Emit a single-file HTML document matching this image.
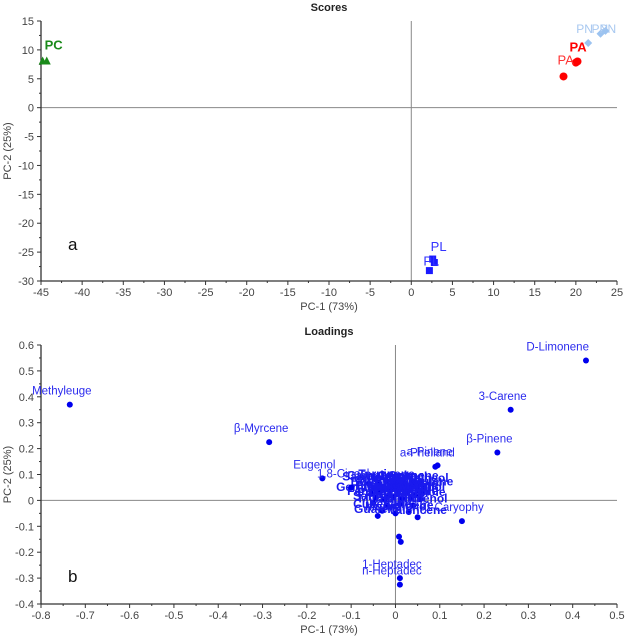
<!DOCTYPE html>
<html><head><meta charset="utf-8"><style>
body{margin:0;background:#fff;}
svg{display:block;font-family:"Liberation Sans",Arial,sans-serif;}
</style></head><body>
<svg id="c" width="625" height="639"></svg>
<script>
// ---- Scores data ----
const pcX=[-44.8,-44.3];const pcY=[8.0,8.0];
const paX=[20.2,18.5,20.0];const paY=[8.0,5.4,7.8];
const pnX=[21.5,23.0,23.6];const pnY=[11.2,12.8,13.3];
const plX=[2.2,2.8,2.6];const plY=[-28.2,-26.8,-26.2];
const scoreXTicks=[-45,-40,-35,-30,-25,-20,-15,-10,-5,0,5,10,15,20,25];
const scoreYTicks=[15,10,5,0,-5,-10,-15,-20,-25,-30];
// ---- Loadings data ----
const loadNames=["Methyleuge","β-Myrcene","Eugenol","1,8-Cineol","a-Phelland","a-Pinene","β-Pinene","3-Carene","D-Limonene","β-Caryophy","1-Heptadec","n-Heptadec","γ-Cadinene","δ-Cadinene"];
const loadX=[-0.735,-0.285,-0.165,-0.10,0.09,0.095,0.23,0.26,0.43,0.15,0.01,0.01,0.008,0.012];
const loadY=[0.37,0.225,0.085,0.05,0.13,0.135,0.185,0.35,0.54,-0.08,-0.30,-0.325,-0.14,-0.16];
const clusterNames=["Sabinene","Camphene","Terpinene","p-Cymene","Linalool","Ocimene","Terpineol","Borneol","Myrtenal","Carvone","Thujene","Citral","Geraniol","Humulene","Germacrene","Elemene","Copaene","Farnesene","Bisabolene","Nerol","Menthol","Fenchone","Pulegone","Thymol","Carvacrol","Estragole","Anethole","Safrole","Myristicin","Elemicin","Spathulenol","Cubebene","Muurolene","Selinene","Guaiene","Valencene"];
const clusterX=[-0.06,-0.04,-0.02,0.0,0.02,0.04,0.06,-0.05,-0.03,-0.01,0.01,0.03,0.05,0.065,-0.055,-0.035,-0.015,0.005,0.025,0.045,0.06,-0.045,-0.025,-0.005,0.015,0.035,0.055,-0.05,-0.02,0.01,0.04,-0.03,0.0,0.03,-0.04,0.05];
const clusterY=[0.065,0.07,0.075,0.07,0.065,0.07,0.06,0.045,0.05,0.04,0.045,0.05,0.04,0.045,0.025,0.03,0.02,0.025,0.03,0.02,0.025,0.01,0.005,0.012,0.008,0.01,0.005,-0.01,-0.02,-0.015,-0.02,-0.04,-0.05,-0.045,-0.06,-0.065];
const loadXTicks=[-0.8,-0.7,-0.6,-0.5,-0.4,-0.3,-0.2,-0.1,0,0.1,0.2,0.3,0.4,0.5];
const loadYTicks=[0.6,0.5,0.4,0.3,0.2,0.1,0,-0.1,-0.2,-0.3,-0.4];

const svg=document.getElementById('c');const NS='http://www.w3.org/2000/svg';
function el(t,a,txt){const e=document.createElementNS(NS,t);for(const k in a)e.setAttribute(k,a[k]);if(txt!==undefined)e.textContent=txt;svg.appendChild(e);return e;}
function lin(d0,d1,r0,r1){return v=>r0+(v-d0)*(r1-r0)/(d1-d0);}

function panel(opt){
  const sx=lin(opt.xd[0],opt.xd[1],41,617), sy=lin(opt.yd[0],opt.yd[1],opt.top,opt.bot);
  let t=el('text',{x:329,y:opt.top-10,'text-anchor':'middle','font-size':11,'font-weight':'bold',fill:'#222'},opt.title);
  
  let l=el('line',{x1:sx(0),x2:sx(0),y1:opt.top,y2:opt.bot,stroke:'#888','stroke-width':1});
  
  l=el('line',{x1:41,x2:617,y1:sy(0),y2:sy(0),stroke:'#888','stroke-width':1});
  
  l=el('line',{x1:41,x2:41,y1:opt.top,y2:opt.bot,stroke:'#333','stroke-width':1.3});
  
  l=el('line',{x1:41,x2:617,y1:opt.bot,y2:opt.bot,stroke:'#333','stroke-width':1.3});
  
  opt.xt.forEach((v,i)=>{
    el('line',{x1:sx(v),x2:sx(v),y1:opt.bot,y2:opt.bot+4,stroke:'#333'});
    if(i<opt.xt.length-1){const m=(v+opt.xt[i+1])/2;el('line',{x1:sx(m),x2:sx(m),y1:opt.bot,y2:opt.bot+2,stroke:'#333'});}
    const tx=el('text',{x:sx(v),y:opt.bot+15,'text-anchor':'middle','font-size':11,fill:'#444'},String(v));
    
  });
  opt.yt.forEach((v,i)=>{
    el('line',{x1:37,x2:41,y1:sy(v),y2:sy(v),stroke:'#333'});
    if(i<opt.yt.length-1){const m=(v+opt.yt[i+1])/2;el('line',{x1:39,x2:41,y1:sy(m),y2:sy(m),stroke:'#333'});}
    const tx=el('text',{x:34,y:sy(v)+4,'text-anchor':'end','font-size':11,fill:'#444'},String(v));
    
  });
  t=el('text',{x:329,y:opt.bot+29,'text-anchor':'middle','font-size':11,fill:'#444'},'PC-1 (73%)');
  
  const cy=(opt.top+opt.bot)/2;
  t=el('text',{x:11,y:cy,'text-anchor':'middle','font-size':11,fill:'#444',transform:`rotate(-90 11 ${cy})`},'PC-2 (25%)');
  
  t=el('text',{x:opt.lx,y:opt.ly,'font-size':17,fill:'#111'},opt.letter);
  
  return {sx,sy};
}

// Scores
const s=panel({id:'scores',title:'Scores',xd:[-45,25],yd:[15,-30],top:21,bot:281,xt:scoreXTicks,yt:scoreYTicks,letter:'a',lx:68,ly:250});
pcX.forEach((x,i)=>{const X=s.sx(x),Y=s.sy(pcY[i]);
  const p=el('polygon',{points:`${X-4},${Y+3} ${X+4},${Y+3} ${X},${Y-5}`,fill:'#1a8a1a'});
  });
let t=el('text',{x:s.sx(pcX[0])+2,y:s.sy(pcY[0])-12,'font-size':13,'font-weight':'bold',fill:'#1a8a1a'},'PC');

paX.forEach((x,i)=>{const c=el('circle',{cx:s.sx(x),cy:s.sy(paY[i]),r:4,fill:'#f00'});
  });
t=el('text',{x:s.sx(paX[0])-8,y:s.sy(paY[0])-10,'font-size':13,'font-weight':'bold',fill:'#f00'},'PA');

t=el('text',{x:s.sx(paX[0])-20,y:s.sy(paY[0])+3,'font-size':13,fill:'#f33'},'PA');

pnX.forEach((x,i)=>{const X=s.sx(x),Y=s.sy(pnY[i]);
  const p=el('polygon',{points:`${X},${Y-4} ${X+4},${Y} ${X},${Y+4} ${X-4},${Y}`,fill:'#9cc3f0'});
  
  const tx=el('text',{x:X-12+i*3,y:s.sy(pnY[2])+2,'font-size':12,fill:'#a8c8f0'},'PN');
  });
plX.forEach((x,i)=>{const X=s.sx(x),Y=s.sy(plY[i]);
  const r=el('rect',{x:X-3.5,y:Y-3.5,width:7,height:7,fill:'#1a1aff'});
  });
t=el('text',{x:s.sx(plX[2])-2,y:s.sy(plY[2])-8,'font-size':13,fill:'#3333ff'},'PL');

t=el('text',{x:s.sx(plX[0])-6,y:s.sy(plY[1])+3,'font-size':13,fill:'#3333ff'},'PL');


// Loadings
const L=panel({id:'loadings',title:'Loadings',xd:[-0.8,0.5],yd:[0.6,-0.4],top:345,bot:604,xt:loadXTicks,yt:loadYTicks,letter:'b',lx:68,ly:582});
clusterX.forEach((x,i)=>{const X=L.sx(x),Y=L.sy(clusterY[i]);
  const c=el('circle',{cx:X,cy:Y,r:3,fill:'#0000ee'});
  
  const tx=el('text',{x:X,y:Y-3,'text-anchor':'middle','font-size':12,'font-weight':'bold',fill:'#1a1aee'},clusterNames[i]);
  });
loadX.forEach((x,i)=>{const X=L.sx(x),Y=L.sy(loadY[i]);
  const c=el('circle',{cx:X,cy:Y,r:3,fill:'#0000ee'});
  
  if(i>=12)return;
  const end=(loadNames[i]==='D-Limonene');
  const tx=el('text',{x:end?X+3:X-8,y:Y-10,'text-anchor':end?'end':'middle','font-size':11.5,fill:'#2a2aee'},loadNames[i]);
  });
</script>
</body></html>
